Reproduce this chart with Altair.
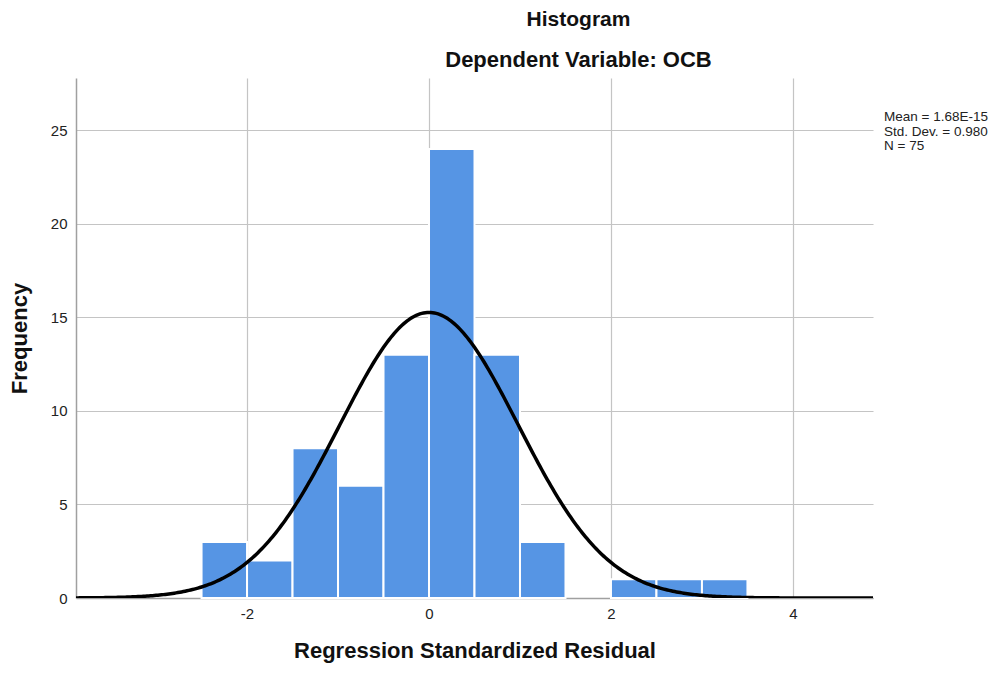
import altair as alt
import pandas as pd

bin_start = [-2.5, -2.0, -1.5, -1.0, -0.5, 0.0, 0.5, 1.0, 1.5, 2.0, 2.5, 3.0]
bin_end = [-2.0, -1.5, -1.0, -0.5, 0.0, 0.5, 1.0, 1.5, 2.0, 2.5, 3.0, 3.5]
counts = [3, 2, 8, 6, 13, 24, 13, 3, 0, 1, 1, 1]
mean_val = 1.68e-15
sd_val = 0.980
n_val = 75
bin_width = 0.5
legend_lines = ["Mean = 1.68E-15", "Std. Dev. = 0.980", "N = 75"]

FONT = "Liberation Sans"
xdom = [-3.88, 4.88]
ydom = [0, 27.8]

bars_df = pd.DataFrame({"start": bin_start, "end": bin_end, "count": counts})
bars_df = bars_df[bars_df["count"] > 0]

xscale = alt.Scale(domain=xdom, nice=False, zero=False)
yscale = alt.Scale(domain=ydom, nice=False)

xaxis = alt.Axis(values=[-2, 0, 2, 4], grid=True, gridColor="#c4c4c4", gridWidth=1.2,
                 ticks=False, domainColor="#a0a0a0", domainWidth=1.5,
                 labelExpr="'' + datum.value",
                 labelFont=FONT, labelFontSize=15, labelColor="#222", labelPadding=8,
                 title="Regression Standardized Residual", titleFont=FONT, titleFontSize=22,
                 titleFontWeight="bold", titleColor="#111", titlePadding=19)
yaxis = alt.Axis(values=[0, 5, 10, 15, 20, 25], grid=True, gridColor="#c4c4c4", gridWidth=1.2,
                 ticks=False, domainColor="#a0a0a0", domainWidth=1.5,
                 labelFont=FONT, labelFontSize=15, labelColor="#222", labelPadding=9,
                 title="Frequency", titleFont=FONT, titleFontSize=22,
                 titleFontWeight="bold", titleColor="#111", titlePadding=19)

bars = alt.Chart(bars_df).mark_bar(color="#5695e4", stroke="white", strokeWidth=2).encode(
    x=alt.X("start:Q", scale=xscale, axis=xaxis),
    x2="end:Q",
    y=alt.Y("count:Q", scale=yscale, axis=yaxis),
    y2=alt.datum(0),
)

curve = alt.Chart(alt.sequence(xdom[0], xdom[1] + 0.01, 0.02, as_="x")).transform_calculate(
    y=f"{n_val} * {bin_width} * densityNormal(datum.x, {mean_val}, {sd_val})"
).mark_line(color="black", strokeWidth=3.5, clip=True).encode(
    x=alt.X("x:Q", scale=xscale),
    y=alt.Y("y:Q", scale=yscale),
)

legend = alt.Chart(pd.DataFrame({"t": [legend_lines]})).mark_text(
    align="left", baseline="top", font=FONT, fontSize=13.5, color="#222", lineHeight=14.5
).encode(text="t:N", x=alt.value(808), y=alt.value(32))

chart = alt.layer(bars, curve, legend).properties(
    width=797, height=520,
    autosize=alt.AutoSizeParams(type="none"),
    padding={"left": 68, "top": 70, "right": 127, "bottom": 67},
    title=alt.TitleParams(
        text="Histogram", subtitle="Dependent Variable: OCB",
        font=FONT, fontSize=21, fontWeight="bold", color="#111",
        subtitleFont=FONT, subtitleFontSize=22, subtitleFontWeight="bold", subtitleColor="#111",
        subtitlePadding=20, anchor="middle", dx=104, offset=7,
    ),
).configure_view(stroke=None)

chart.save("out.html", embed_options={"renderer": "svg", "actions": False})
